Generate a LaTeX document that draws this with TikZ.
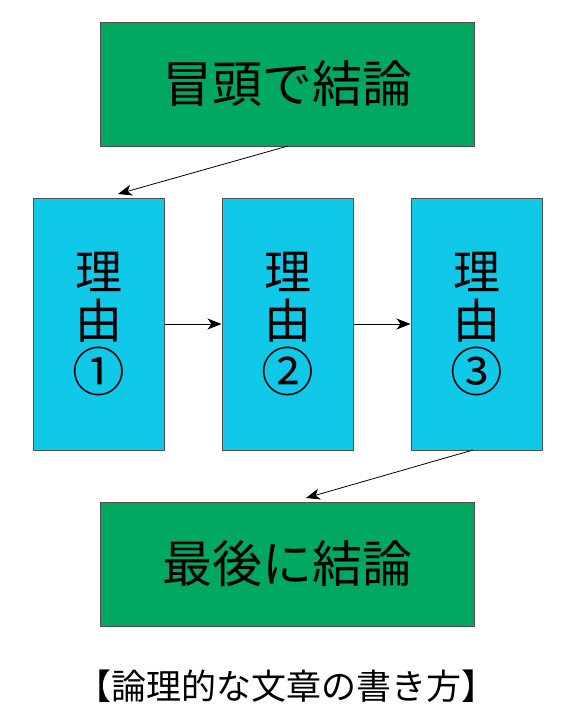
\documentclass[tikz,border=0pt]{standalone}
\usepackage{fontspec}
\setmainfont{Noto Sans CJK JP}
\usetikzlibrary{arrows.meta}
\definecolor{boxgreen}{HTML}{00A862}
\definecolor{boxblue}{HTML}{10C8E8}
\definecolor{edge}{HTML}{505050}
\newcommand{\circnum}[1]{\raisebox{-4pt}{\scalebox{1.12}{#1}}}
\begin{document}
\begin{tikzpicture}[x=1pt,y=-1pt,
  greenbox/.style={draw=edge,line width=1pt,fill=boxgreen,minimum width=374pt,minimum height=124pt,inner sep=0pt,font=\fontsize{50}{52}\selectfont},
  bluebox/.style={draw=edge,line width=1pt,fill=boxblue,minimum width=131pt,minimum height=252pt,inner sep=0pt,align=center,font=\fontsize{47}{49}\selectfont},
  conn/.style={draw=black,line width=0.8pt,-{Stealth[length=14pt,width=11pt,inset=4pt]}}]
\useasboundingbox (0,0) rectangle (577,720);
\node[greenbox] (top) at (287,84) {冒頭で結論};
\node[bluebox] (r1) at (98.5,324) {理\\由\\\circnum{①}};
\node[bluebox] (r2) at (287.5,324) {理\\由\\\circnum{②}};
\node[bluebox] (r3) at (476.5,324) {理\\由\\\circnum{③}};
\node[greenbox] (bot) at (287,564) {最後に結論};
\node[font=\fontsize{35}{36}\selectfont] (cap) at (286,686) {【論理的な文章の書き方】};
\coordinate (a1s) at (288,146);
\coordinate (a1e) at (118,194);
\draw[conn] (a1s) -- (a1e);
\draw[conn] (r1.east) -- (r2.west);
\draw[conn] (r2.east) -- (r3.west);
\coordinate (a4s) at (473,450);
\coordinate (a4e) at (306,498);
\draw[conn] (a4s) -- (a4e);
\end{tikzpicture}
\end{document}
